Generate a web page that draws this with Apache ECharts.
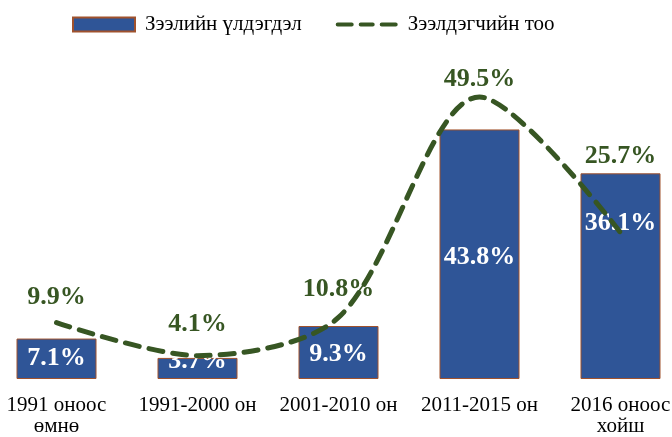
<!DOCTYPE html>
<html><head><meta charset="utf-8">
<script src="https://cdn.jsdelivr.net/npm/echarts@6/dist/echarts.min.js"></script>
<style>html,body{margin:0;padding:0;background:#fff;overflow:hidden}#c{width:705px;height:437px;margin-left:-14px}</style>
</head><body><div id="c"></div>
<script>
const categories = ['1991 оноос\nөмнө', '1991-2000 он', '2001-2010 он', '2011-2015 он', '2016 оноос\nхойш'];
const loanBalance = [7.1, 3.7, 9.3, 43.8, 36.1];
const borrowers = [9.9, 4.1, 10.8, 49.5, 25.7];
const barLabelOffsets = [[0,0],[0,-7],[0,2],[0,3],[0,-53]];
const lineLabelOffsets = [[0,0],[0,-6],[0,-3],[0,8],[0,-51]];
const serif = '"Liberation Serif","Times New Roman",serif';
const chart = echarts.init(document.getElementById('c'));
chart.setOption({
  animation: false,
  legend: {
    top: 14, left: 86, padding: 0, itemGap: 34, itemWidth: 62, itemHeight: 14,
    textStyle: {fontFamily: serif, fontSize: 21, color: '#000', padding: [0, 0, 0, 5]},
    data: [
      {name: 'Зээлийн үлдэгдэл', icon: 'rect'},
      {name: 'Зээлдэгчийн тоо', itemStyle: {color: '#375623'},
       icon: 'path://M2,0 L16,0 A2,2 0 0 1 16,4 L2,4 A2,2 0 0 1 2,0 Z M25,0 L37,0 A2,2 0 0 1 37,4 L25,4 A2,2 0 0 1 25,0 Z M46,0 L60,0 A2,2 0 0 1 60,4 L46,4 A2,2 0 0 1 46,0 Z'}
    ]
  },
  grid: {left: 0, right: 0, top: 40, bottom: 58, outerBoundsMode: 'none', containLabel: false},
  xAxis: {
    type: 'category', data: categories,
    axisLine: {show: false}, axisTick: {show: false},
    axisLabel: {fontFamily: serif, fontSize: 21, color: '#000', margin: 16, lineHeight: 21, interval: 0}
  },
  yAxis: {type: 'value', min: 0, max: 59.5, show: false, splitLine: {show: false}},
  series: [
    {
      name: 'Зээлийн үлдэгдэл', type: 'bar', barWidth: 80,
      itemStyle: {color: '#2F5597', borderColor: '#A0522D', borderWidth: 1},
      data: loanBalance.map((v, i) => ({value: v, label: {offset: barLabelOffsets[i]}})),
      label: {show: true, position: 'inside', formatter: p => p.value.toFixed(1) + '%',
        fontFamily: serif, fontSize: 26, fontWeight: 'bold', color: '#fff'}
    },
    {
      name: 'Зээлдэгчийн тоо', type: 'line', smooth: 0.3, symbol: 'circle', symbolSize: 1, showSymbol: true,
      lineStyle: {color: '#375623', width: 5, type: [14, 10], cap: 'round'},
      itemStyle: {color: 'rgba(0,0,0,0)'},
      data: borrowers.map((v, i) => ({value: v, label: {offset: lineLabelOffsets[i]}})),
      label: {show: true, position: 'top', distance: 12, formatter: p => p.value.toFixed(1) + '%',
        fontFamily: serif, fontSize: 26, fontWeight: 'bold', color: '#375623'},
      z: 3
    }
  ]
});
</script></body></html>
